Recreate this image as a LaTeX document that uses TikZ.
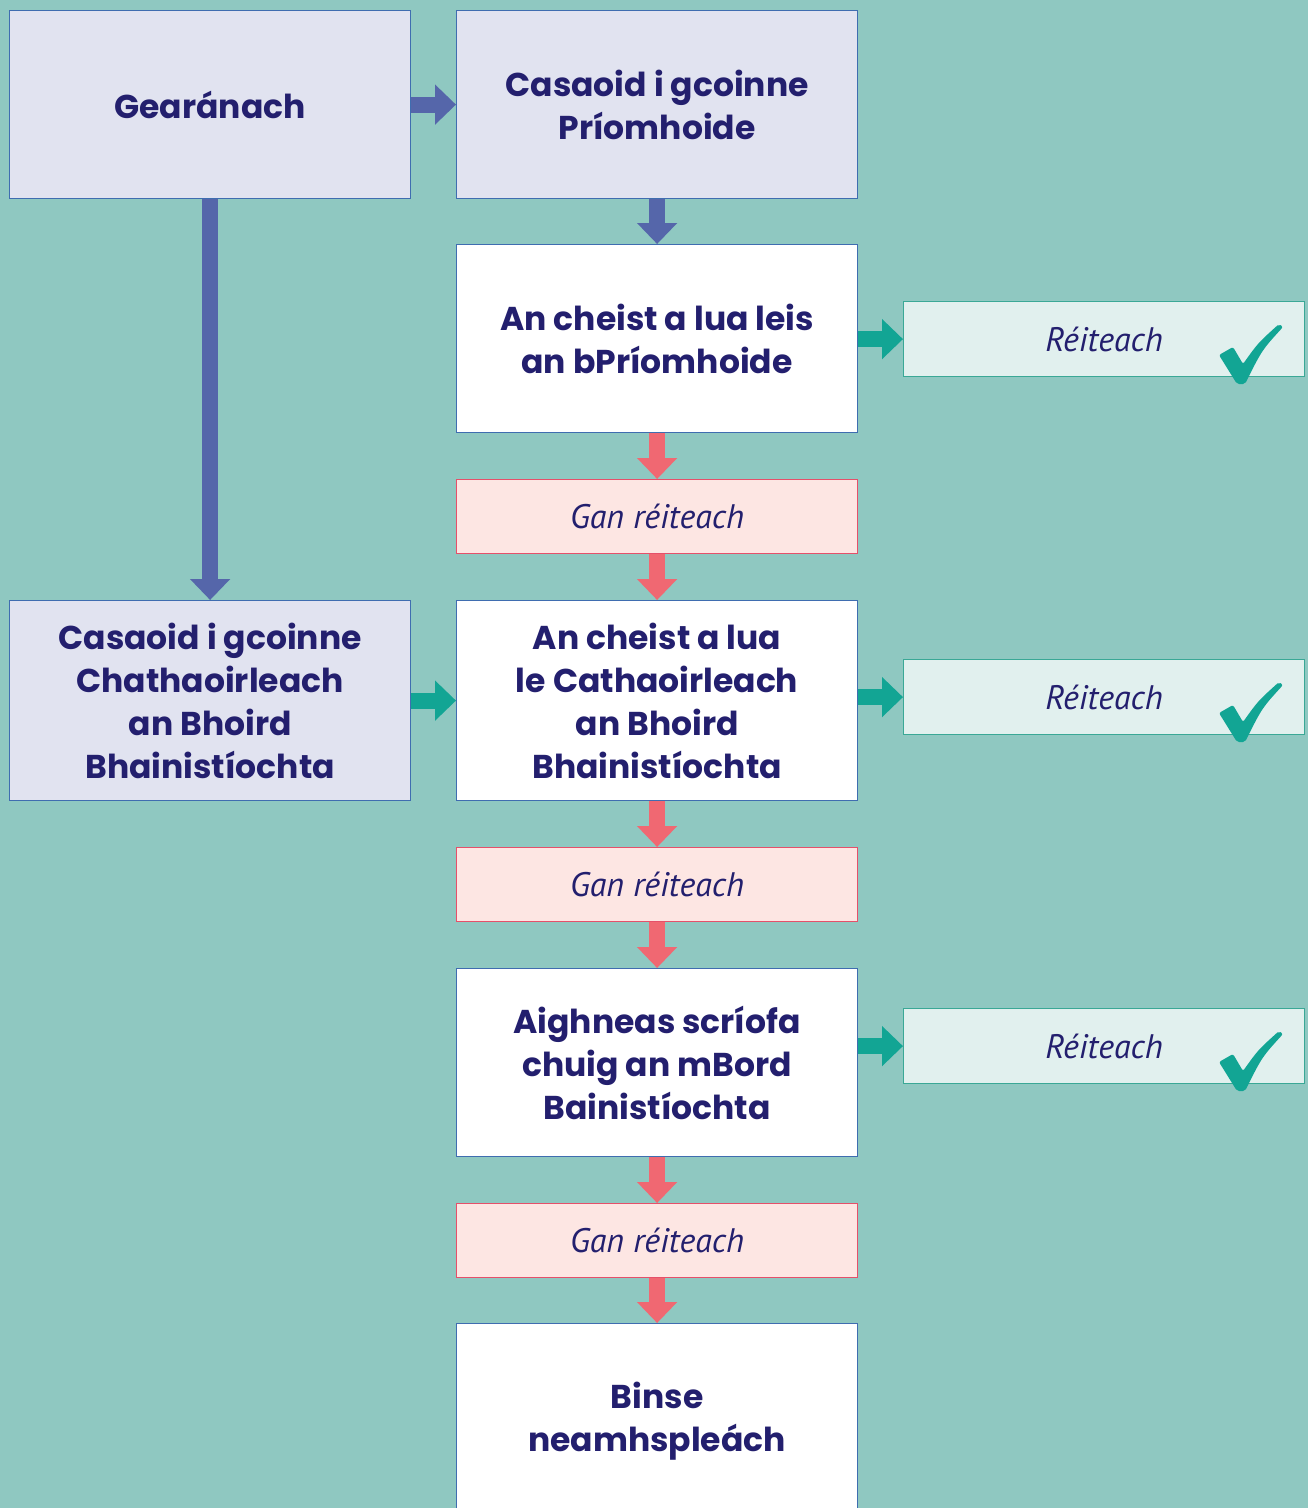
\documentclass[tikz,border=0pt]{standalone}
\usepackage{fontspec}
\setmainfont{Poppins}
\newfontfamily\itfont{PT Sans}
\usetikzlibrary{arrows.meta,calc}
\definecolor{bg}{RGB}{143,200,193}
\definecolor{lav}{RGB}{225,227,240}
\definecolor{bord}{RGB}{63,109,176}
\definecolor{navy}{RGB}{35,31,110}
\definecolor{pinkf}{RGB}{253,230,227}
\definecolor{pinkb}{RGB}{229,80,106}
\definecolor{pinka}{RGB}{240,104,114}
\definecolor{bluea}{RGB}{85,102,170}
\definecolor{tealf}{RGB}{225,240,238}
\definecolor{tealb}{RGB}{58,168,150}
\definecolor{teala}{RGB}{18,165,148}
\tikzset{
  box/.style={draw=bord, line width=1.2pt, minimum width=401pt, inner sep=0pt, anchor=north west,
    align=center, text=navy, font=\fontsize{33}{43}\selectfont\bfseries},
  lavbox/.style={box, fill=lav},
  whitebox/.style={box, fill=white},
  nrbox/.style={draw=pinkb, fill=pinkf, line width=1.2pt, minimum width=401pt, minimum height=74pt,
    inner sep=0pt, anchor=north west, text=navy, font=\itfont\itshape\fontsize{34}{40}\selectfont},
  rbox/.style={draw=tealb, fill=tealf, line width=1.2pt, minimum width=401pt, minimum height=75pt,
    inner sep=0pt, anchor=north west, text=navy, font=\itfont\itshape\fontsize{34}{40}\selectfont},
  barrow/.style={draw=bluea, line width=16pt, -{Triangle[width=39pt,length=21pt]}},
  parrow/.style={draw=pinka, line width=16pt, -{Triangle[width=39pt,length=21pt]}},
  tarrow/.style={draw=teala, line width=16pt, -{Triangle[width=39pt,length=21pt]}},
}
\newcommand{\checkmk}[1]{%
  \fill[teala, rounded corners=2pt] ($(#1)+(1219,355)$) -- ($(#1)+(1233,347)$) -- ($(#1)+(1243,364)$)
     .. controls ($(#1)+(1258,343)$) .. ($(#1)+(1279,324)$) -- ($(#1)+(1283,327)$)
     .. controls ($(#1)+(1262,350)$) .. ($(#1)+(1245,384)$) -- ($(#1)+(1237,384)$) -- cycle;}
\begin{document}
\begin{tikzpicture}[x=1pt,y=-1pt]
\useasboundingbox (0,0) rectangle (1308,1508);
\fill[bg] (0,0) rectangle (1308,1508);
\node[lavbox, minimum height=188pt] (g) at (9,10) {Gearánach};
\node[lavbox, minimum height=188pt] (cp) at (456,10) {Casaoid i gcoinne\\Príomhoide};
\node[whitebox, minimum height=188pt] (q1) at (456,244) {An cheist a lua leis\\an bPríomhoide};
\node[nrbox] (nr1) at (456,479) {Gan réiteach};
\node[lavbox, minimum height=200pt] (cc) at (9,600) {Casaoid i gcoinne\\Chathaoirleach\\an Bhoird\\Bhainistíochta};
\node[whitebox, minimum height=200pt] (q2) at (456,600) {An cheist a lua\\le Cathaoirleach\\an Bhoird\\Bhainistíochta};
\node[nrbox] (nr2) at (456,847) {Gan réiteach};
\node[whitebox, minimum height=188pt] (q3) at (456,968) {Aighneas scríofa\\chuig an mBord\\Bainistíochta};
\node[nrbox] (nr3) at (456,1203) {Gan réiteach};
\node[whitebox, minimum height=196pt] (bn) at (456,1323) {Binse\\neamhspleách};
\node[rbox] (r1) at (903,301) {Réiteach};
\node[rbox] (r2) at (903,659) {Réiteach};
\node[rbox] (r3) at (903,1008) {Réiteach};
\coordinate (o1) at (0,0);
\coordinate (o2) at (0,358);
\coordinate (o3) at (0,707);
\checkmk{o1}
\checkmk{o2}
\checkmk{o3}
\draw[barrow] (g.east) -- (cp.west);
\draw[barrow] (cp.south) -- (q1.north);
\draw[barrow] (g.south) -- (cc.north);
\draw[tarrow] (cc.east) -- (q2.west);
\draw[parrow] (q1.south) -- (nr1.north);
\draw[parrow] (nr1.south) -- (q2.north);
\draw[parrow] (q2.south) -- (nr2.north);
\draw[parrow] (nr2.south) -- (q3.north);
\draw[parrow] (q3.south) -- (nr3.north);
\draw[parrow] (nr3.south) -- (bn.north);
\draw[tarrow] (q1.east |- r1.west) -- (r1.west);
\draw[tarrow] (q2.east |- r2.west) -- (r2.west);
\draw[tarrow] (q3.east |- r3.west) -- (r3.west);
\end{tikzpicture}
\end{document}
